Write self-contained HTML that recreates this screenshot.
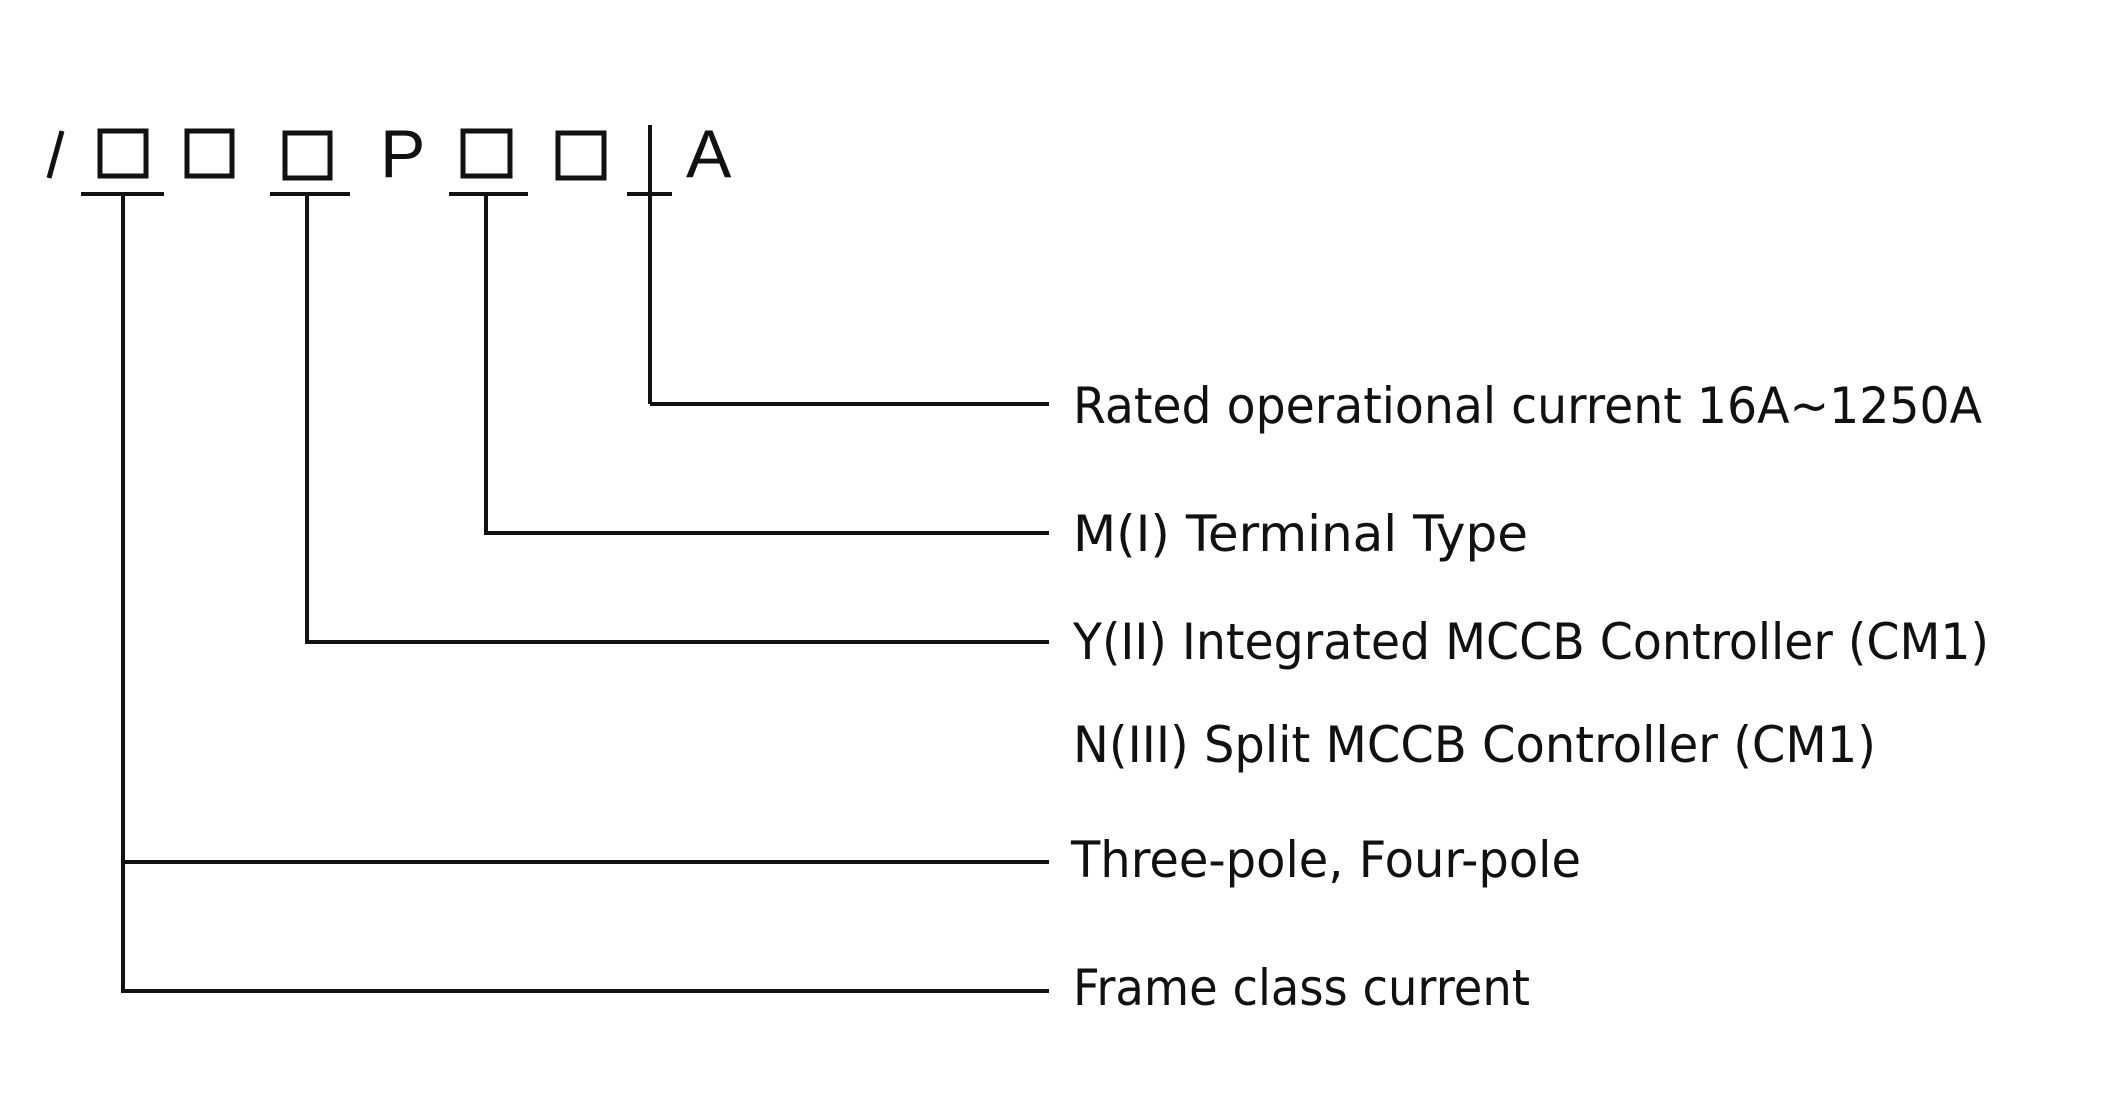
<!DOCTYPE html>
<html><head><meta charset="utf-8"><style>
html,body{margin:0;padding:0;background:#fff;}
svg{display:block;}
</style></head><body>
<svg width="2128" height="1108" viewBox="0 0 2128 1108" xmlns="http://www.w3.org/2000/svg">
<rect width="2128" height="1108" fill="#fff"/>
<g fill="none" stroke="#111" stroke-width="5">
<line x1="62" y1="131" x2="49" y2="178"/>
<rect x="100" y="131" width="46" height="45"/>
<rect x="187" y="131" width="45" height="45"/>
<rect x="285" y="133" width="45" height="45"/>
<rect x="463" y="131" width="47" height="45"/>
<rect x="558" y="133" width="46" height="45"/>
</g>
<g fill="none" stroke="#111" stroke-width="4">
<line x1="650" y1="125" x2="650" y2="404"/>
<line x1="81" y1="194" x2="164" y2="194"/>
<line x1="270" y1="194" x2="350" y2="194"/>
<line x1="449" y1="194" x2="528" y2="194"/>
<line x1="627" y1="194" x2="672" y2="194"/>
<polyline points="650,404 1049,404"/>
<polyline points="486,194 486,533 1049,533"/>
<polyline points="307,194 307,642 1049,642"/>
<polyline points="123,194 123,991 1049,991"/>
<line x1="123" y1="862" x2="1049" y2="862"/>
</g>
<g font-family="Liberation Sans, sans-serif" fill="#111">
<text x="380" y="177" font-size="68">P</text>
<text x="686" y="177" font-size="68">A</text>
</g>
<g font-family="DejaVu Sans, Liberation Sans, sans-serif" font-size="50" fill="#111" lengthAdjust="spacingAndGlyphs">
<text x="1073" y="423" textLength="909" lengthAdjust="spacingAndGlyphs">Rated operational current 16A~1250A</text>
<text x="1073" y="551" textLength="455" lengthAdjust="spacingAndGlyphs">M(I) Terminal Type</text>
<text x="1073" y="659" textLength="916" lengthAdjust="spacingAndGlyphs">Y(II) Integrated MCCB Controller (CM1)</text>
<text x="1073" y="762" textLength="803" lengthAdjust="spacingAndGlyphs">N(III) Split MCCB Controller (CM1)</text>
<text x="1071" y="877" textLength="510" lengthAdjust="spacingAndGlyphs">Three-pole, Four-pole</text>
<text x="1073" y="1005" textLength="457" lengthAdjust="spacingAndGlyphs">Frame class current</text>
</g>
</svg>
</body></html>
